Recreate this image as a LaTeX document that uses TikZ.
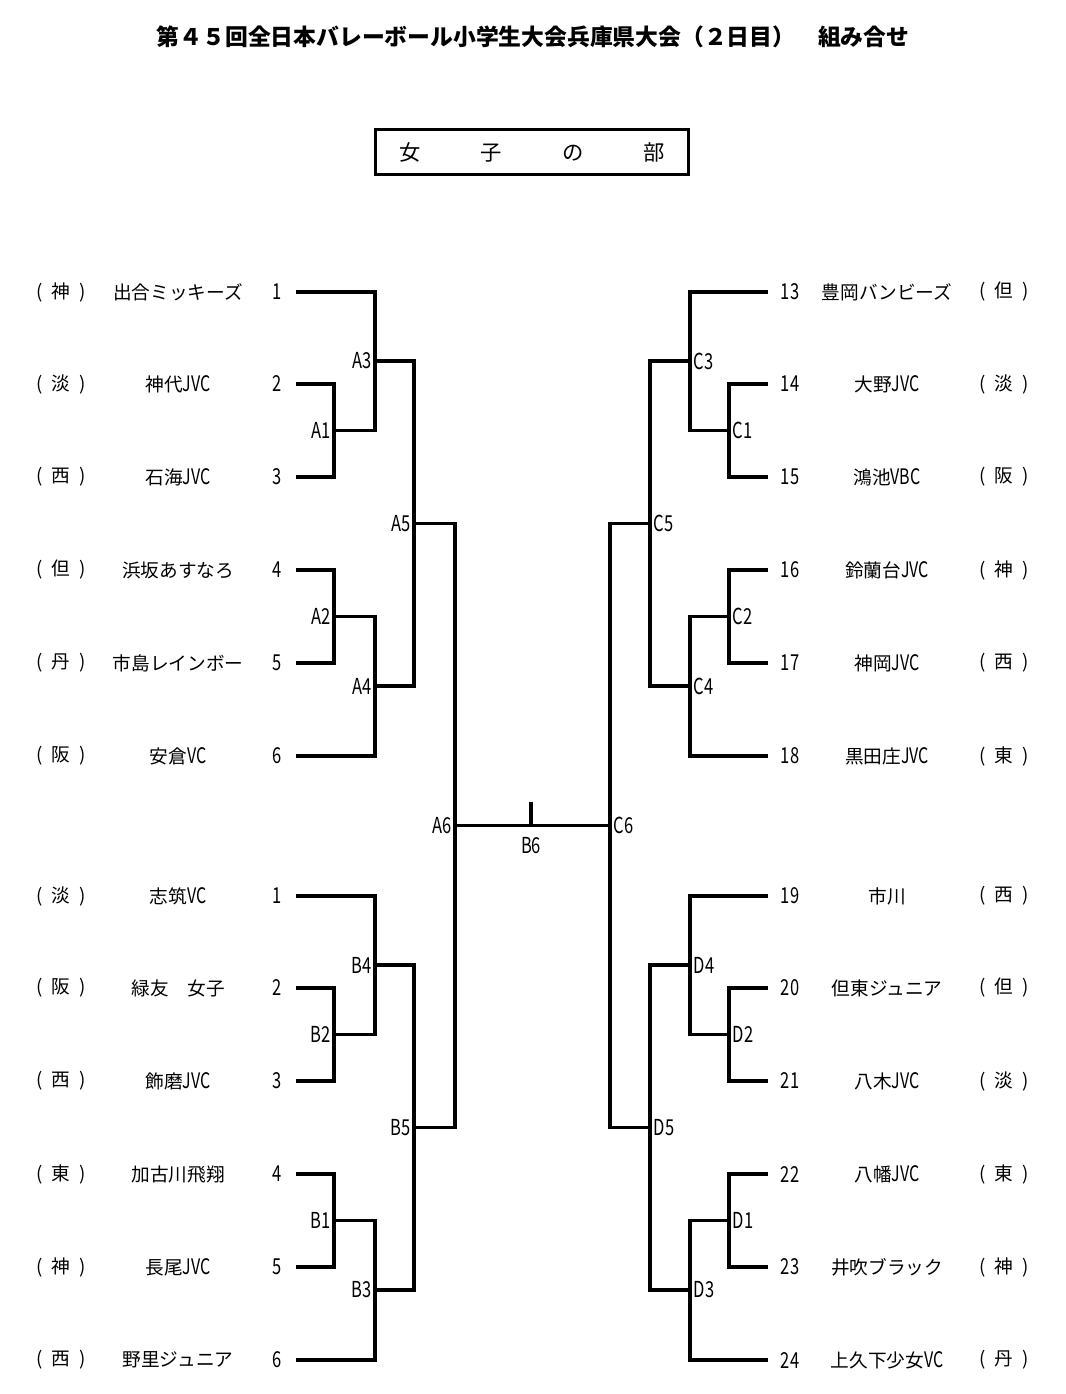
\documentclass[tikz,border=0pt]{standalone}
\usepackage{fontspec}
\setmainfont{Noto Sans CJK JP}
\newfontfamily\narrow[FakeStretch=0.75]{Noto Sans CJK JP}
\newcommand\lat[1]{{\narrow\fontsize{16}{16}\selectfont #1}}
\usetikzlibrary{positioning}
\tikzset{
  team/.style={line width=3pt},
  tie/.style={line width=2.3pt},
  num/.style={font=\narrow\fontsize{16.5}{18}\selectfont},
  entry/.style={font=\fontsize{14}{16}\selectfont},
  match/.style={font=\narrow\fontsize{16.5}{18}\selectfont, inner sep=2.6pt},
}
\begin{document}
\begin{tikzpicture}[x=0.75pt,y=-0.75pt]
  \useasboundingbox (0,0) rectangle (1065,1394);
  % title and heading box
  \node[font=\bfseries\fontsize{17.1}{19}\selectfont] (title) at (533,37)
    {第４５回全日本バレーボール小学生大会兵庫県大会（２日目）　組み合せ};
  \node[draw, line width=2.4pt, minimum width=235pt, minimum height=34pt,
    font=\fontsize{16}{18}\selectfont] (head) at (532,152)
    {女\hspace{45pt}子\hspace{45pt}の\hspace{45pt}部};
  % entries
  \foreach \y/\n/\t/\p [count=\i] in {
      292/1/出合ミッキーズ/神, 384/2/神代\lat{JVC}/淡, 477/3/石海\lat{JVC}/西,
      570/4/浜坂あすなろ/但, 663/5/市島レインボー/丹, 756/6/安倉\lat{VC}/阪} {
    \coordinate (a\i) at (296,\y);
    \node[num] (na\i) at (277,\y) {\n};
    \node[entry] (ta\i) at (178,\y) {\t};
    \node[entry] (pa\i) at (61,\y) {(\enspace\p\enspace)};
  }
  \foreach \y/\n/\t/\p [count=\i] in {
      896/1/志筑\lat{VC}/淡, 988/2/緑友　女子/阪, 1081/3/飾磨\lat{JVC}/西,
      1174/4/加古川飛翔/東, 1267/5/長尾\lat{JVC}/神, 1360/6/野里ジュニア/西} {
    \coordinate (b\i) at (296,\y);
    \node[num] (nb\i) at (277,\y) {\n};
    \node[entry] (tb\i) at (178,\y) {\t};
    \node[entry] (pb\i) at (61,\y) {(\enspace\p\enspace)};
  }
  \foreach \y/\n/\t/\p [count=\i] in {
      292/13/豊岡バンビーズ/但, 384/14/大野\lat{JVC}/淡, 477/15/鴻池\lat{VBC}/阪,
      570/16/鈴蘭台\lat{JVC}/神, 663/17/神岡\lat{JVC}/西, 756/18/黒田庄\lat{JVC}/東} {
    \coordinate (c\i) at (768,\y);
    \node[num] (nc\i) at (790,\y) {\n};
    \node[entry] (tc\i) at (887,\y) {\t};
    \node[entry] (pc\i) at (1004,\y) {(\enspace\p\enspace)};
  }
  \foreach \y/\n/\t/\p [count=\i] in {
      896/19/市川/西, 988/20/但東ジュニア/但, 1081/21/八木\lat{JVC}/淡,
      1174/22/八幡\lat{JVC}/東, 1267/23/井吹ブラック/神, 1360/24/上久下少女\lat{VC}/丹} {
    \coordinate (d\i) at (768,\y);
    \node[num] (nd\i) at (790,\y) {\n};
    \node[entry] (td\i) at (887,\y) {\t};
    \node[entry] (pd\i) at (1004,\y) {(\enspace\p\enspace)};
  }
  % match points
  \coordinate (A1) at (334,430.5);
  \coordinate (A2) at (334,616.5);
  \coordinate (A3) at (375,361);
  \coordinate (A4) at (375,686);
  \coordinate (A5) at (414,523.5);
  \coordinate (A6) at (455,825.5);
  \coordinate (B2) at (334,1034.5);
  \coordinate (B1) at (334,1220.5);
  \coordinate (B4) at (375,965);
  \coordinate (B3) at (375,1290);
  \coordinate (B5) at (414,1127.5);
  \coordinate (B6) at (531,825.5);
  \coordinate (B6t) at (531,802);
  \coordinate (C1) at (729,430.5);
  \coordinate (C2) at (729,616.5);
  \coordinate (C3) at (690,361);
  \coordinate (C4) at (690,686);
  \coordinate (C5) at (650,523.5);
  \coordinate (C6) at (610,825.5);
  \coordinate (D2) at (729,1034.5);
  \coordinate (D1) at (729,1220.5);
  \coordinate (D4) at (690,965);
  \coordinate (D3) at (690,1290);
  \coordinate (D5) at (650,1127.5);
  % left bracket
  \draw[tie] (A1) -| (A3) |- (a1);
  \draw[tie] (A2) -| (A4) |- (a6);
  \draw[tie] (A3) -| (A5) |- (A4);
  \draw[tie] (A5) -| (A6) |- (B5);
  \draw[tie] (B2) -| (B4) |- (b1);
  \draw[tie] (B1) -| (B3) |- (b6);
  \draw[tie] (B4) -| (B5) |- (B3);
  \draw[team] (a2) -| (A1) |- (a3);
  \draw[team] (a5) -| (A2) |- (a4);
  \draw[team] (a1) -- (a1 -| A3);
  \draw[team] (a6) -- (a6 -| A4);
  \draw[team] (b2) -| (B2) |- (b3);
  \draw[team] (b5) -| (B1) |- (b4);
  \draw[team] (b1) -- (b1 -| B4);
  \draw[team] (b6) -- (b6 -| B3);
  % right bracket
  \draw[tie] (C1) -| (C3) |- (c1);
  \draw[tie] (C2) -| (C4) |- (c6);
  \draw[tie] (C3) -| (C5) |- (C4);
  \draw[tie] (C5) -| (C6) |- (D5);
  \draw[tie] (D2) -| (D4) |- (d1);
  \draw[tie] (D1) -| (D3) |- (d6);
  \draw[tie] (D4) -| (D5) |- (D3);
  \draw[team] (c2) -| (C1) |- (c3);
  \draw[team] (c5) -| (C2) |- (c4);
  \draw[team] (c1) -- (c1 -| C3);
  \draw[team] (c6) -- (c6 -| C4);
  \draw[team] (d2) -| (D2) |- (d3);
  \draw[team] (d5) -| (D1) |- (d4);
  \draw[team] (d1) -- (d1 -| D4);
  \draw[team] (d6) -- (d6 -| D3);
  % final
  \draw[tie] (A6) -- (C6);
  \draw[tie] (B6) -- (B6t);
  % match labels
  \foreach \m in {A1,A2,A3,A4,A5,A6,B1,B2,B3,B4,B5}
    \node[match, anchor=east] (m\m) at (\m) {\m};
  \foreach \m in {C1,C2,C3,C4,C5,C6,D1,D2,D3,D4,D5}
    \node[match, anchor=west] (m\m) at (\m) {\m};
  \node[match, below=6pt of B6] (mB6) {B6};
\end{tikzpicture}
\end{document}
